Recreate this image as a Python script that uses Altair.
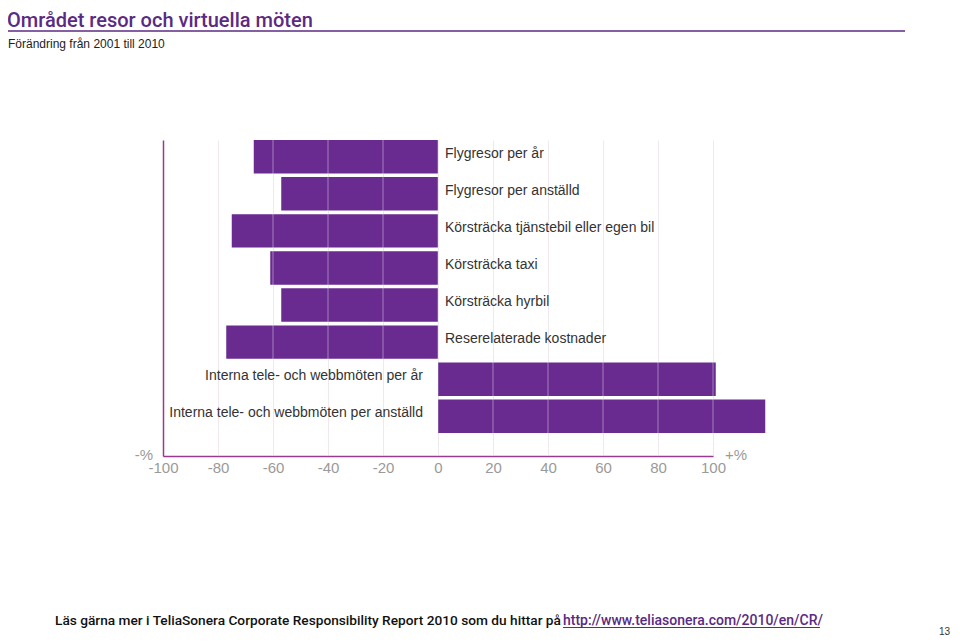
import altair as alt
import pandas as pd

categories = [
    "Flygresor per år",
    "Flygresor per anställd",
    "Körsträcka tjänstebil eller egen bil",
    "Körsträcka taxi",
    "Körsträcka hyrbil",
    "Reserelaterade kostnader",
    "Interna tele- och webbmöten per år",
    "Interna tele- och webbmöten per anställd",
]
values = [-67, -57, -75, -61, -57, -77, 101, 119]
grid_values = [-80, -60, -40, -20, 0, 20, 40, 60, 80, 100]
tick_values = [-100, -80, -60, -40, -20, 0, 20, 40, 60, 80, 100]

title_text = "Området resor och virtuella möten"
subtitle_text = "Förändring från 2001 till 2010"
footer_text = "Läs gärna mer i TeliaSonera Corporate Responsibility Report 2010 som du hittar på"
link_text = "http://www.teliasonera.com/2010/en/CR/"
page_no = "13"

PURPLE = "#692b90"
AXIS = "#9a3a8e"
FONT = "Liberation Sans"

df = pd.DataFrame({"cat": categories, "value": values})
gdf = pd.DataFrame({"g": grid_values})

W, H = 550, 316

xscale = alt.Scale(domain=[-100, 100], nice=False)
yscale = alt.Scale(domain=categories, paddingInner=0.1, paddingOuter=0.31, align=0)

base = alt.Chart(df)

bars = base.mark_bar(color=PURPLE).encode(
    x=alt.X("value:Q", scale=xscale,
            axis=alt.Axis(values=tick_values, title=None, ticks=False, labelFontSize=15,
                          labelColor="#9a9a9a", labelFont=FONT, labelPadding=4,
                          labelFlush=False, labelOverlap=False,
                          domainColor=AXIS, domainWidth=1.5, grid=True,
                          gridColor="#ece4ec", labelExpr="toString(datum.value)")),
    y=alt.Y("cat:N", scale=yscale, sort=None,
            axis=alt.Axis(labels=False, ticks=False, title=None, domainColor=AXIS,
                          domainWidth=1.5, grid=False)),
)

overlay = alt.Chart(gdf).mark_rule(color="white", opacity=0.4, strokeWidth=1).encode(
    x=alt.X("g:Q", scale=xscale),
    y=alt.value(0),
    y2=alt.value(H),
)

neg_labels = base.transform_filter("datum.value < 0").mark_text(
    align="left", baseline="middle", dx=7, dy=-3, fontSize=14, font=FONT, color="#333333"
).encode(x=alt.datum(0), y=alt.Y("cat:N", scale=yscale, sort=None), text="cat:N")

pos_labels = base.transform_filter("datum.value > 0").mark_text(
    align="right", baseline="middle", dx=-15, dy=-3, fontSize=14, font=FONT, color="#333333"
).encode(x=alt.datum(0), y=alt.Y("cat:N", scale=yscale, sort=None), text="cat:N")

def txt(s, x, y, **kw):
    return alt.Chart(pd.DataFrame({"t": [s]})).mark_text(**kw).encode(
        x=alt.value(x), y=alt.value(y), text="t:N")

title = txt(title_text, -156, -113, align="left", baseline="alphabetic", fontSize=20,
            font="Roboto", color="#5b2a82", fontWeight=500)
subtitle = txt(subtitle_text, -155, -92, align="left", baseline="alphabetic", fontSize=12,
               font=FONT, color="#222222")
title_rule = alt.Chart(pd.DataFrame({"a": [0]})).mark_rule(color="#5b2a82", strokeWidth=1.5).encode(
    x=alt.value(-158), x2=alt.value(742), y=alt.value(-109))
minus_pct = txt("-%", -10, 315, align="right", baseline="middle", fontSize=15, font=FONT, color="#9a9a9a")
plus_pct = txt("+%", 562, 315, align="left", baseline="middle", fontSize=15, font=FONT, color="#9a9a9a")
footer = txt(footer_text, -108, 485, align="left", baseline="alphabetic", fontSize=13.7,
             font="Roboto", color="#111111", fontWeight=500)
link = txt(link_text, 400, 485, align="left", baseline="alphabetic", fontSize=14,
           font="Roboto", color="#5b2a82", fontWeight=500)
link_rule = alt.Chart(pd.DataFrame({"a": [0]})).mark_rule(color="#5b2a82", strokeWidth=1).encode(
    x=alt.value(400), x2=alt.value(657), y=alt.value(487.5))
pageno = txt(page_no, 787, 495, align="right", baseline="alphabetic", fontSize=10,
             font=FONT, color="#333333")

chart = alt.layer(
    bars, overlay, neg_labels, pos_labels, title, title_rule, subtitle,
    minus_pct, plus_pct, footer, link, link_rule, pageno
).properties(
    width=W, height=H,
    autosize=alt.AutoSizeParams(type="none"),
    padding={"left": 155, "top": 132, "right": 239, "bottom": 180},
).configure_view(stroke=None)

chart.save("out.html", embed_options={"renderer": "svg", "actions": False})
